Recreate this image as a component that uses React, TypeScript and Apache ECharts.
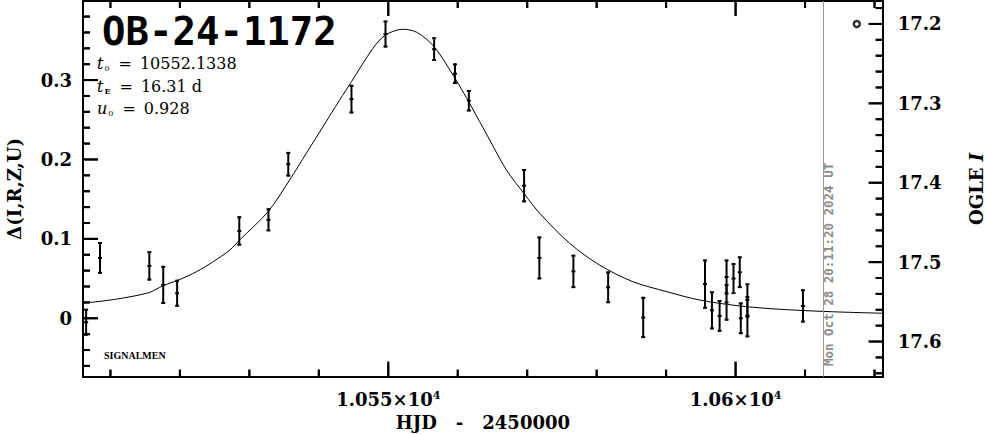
import React, { useEffect, useRef } from 'react';
import * as echarts from 'echarts';

// Observations: HJD-2450000, Δ mag, error
const obsT = [10506.5, 10508.5, 10515.6, 10517.6, 10519.6, 10528.55, 10532.75, 10535.6, 10544.7, 10549.6, 10556.6, 10559.6, 10561.6, 10569.55, 10571.75, 10576.65, 10581.65, 10586.7, 10595.6, 10596.6, 10597.7, 10598.7, 10598.7, 10599.7, 10600.6, 10600.75, 10601.7, 10601.7, 10609.7];
const obsDelta = [-0.005, 0.076, 0.066, 0.042, 0.0315, 0.110, 0.124, 0.194, 0.276, 0.358, 0.339, 0.308, 0.274, 0.167, 0.076, 0.059, 0.039, 0.001, 0.043, 0.010, 0.003, 0.052, 0.020, 0.050, 0.058, 0.000, 0.023, 0.002, 0.0155];
const obsErr = [0.017, 0.020, 0.0185, 0.024, 0.017, 0.0185, 0.0145, 0.0155, 0.018, 0.017, 0.015, 0.013, 0.0135, 0.021, 0.027, 0.021, 0.020, 0.026, 0.031, 0.024, 0.020, 0.022, 0.023, 0.0195, 0.020, 0.020, 0.021, 0.026, 0.021];

// Model curve
const modelT = [10506.0, 10510.7, 10515.5, 10517.6, 10519.8, 10522.4, 10524.8, 10527.2, 10528.6, 10532.7, 10535.8, 10538.2, 10540.6, 10543.0, 10544.7, 10547.8, 10549.6, 10552.1, 10554.1, 10556.6, 10559.6, 10561.7, 10564.6, 10567.0, 10569.7, 10571.8, 10576.1, 10580.4, 10585.2, 10590.1, 10594.8, 10600.6, 10606.4, 10613.6, 10621.2];
const modelDelta = [0.0189, 0.0239, 0.0322, 0.0411, 0.0482, 0.0587, 0.0713, 0.0860, 0.0986, 0.1343, 0.1742, 0.2078, 0.2413, 0.2749, 0.2980, 0.3401, 0.3568, 0.3640, 0.3602, 0.3421, 0.3023, 0.2708, 0.2246, 0.1868, 0.1553, 0.1322, 0.0945, 0.0671, 0.0461, 0.0335, 0.0230, 0.0155, 0.0113, 0.0083, 0.0063];

// OGLE marker (right axis)
const ogleMarkT = [10617.45];
const ogleMarkI = [17.2];

// Tick positions
const xMajorTicks = [10550, 10600];
const xMinorTicks = [10510, 10520, 10530, 10540, 10560, 10570, 10580, 10590, 10610, 10620];
const yMajorTicks = [0, 0.1, 0.2, 0.3];
const yMinorTicks = [-0.06, -0.04, -0.02, 0.02, 0.04, 0.06, 0.08, 0.12, 0.14, 0.16, 0.18, 0.22, 0.24, 0.26, 0.28, 0.32, 0.34, 0.36, 0.38];
const iMajorTicks = [17.2, 17.3, 17.4, 17.5, 17.6];
const iMinorTicks = [17.18, 17.22, 17.24, 17.26, 17.28, 17.32, 17.34, 17.36, 17.38, 17.42, 17.44, 17.46, 17.48, 17.52, 17.54, 17.56, 17.58, 17.62, 17.64];

// Tick labels
const xTickValues = [10550, 10600];
const xTickMantissa = ['1.055', '1.06'];
const xTickExponent = '4';
const X_MIN = 10506.05;
const X_MAX = 10621.18;
const Y_MIN = -0.0736;
const Y_MAX = 0.3996;
const I_BASE = 17.5707;
const I_MIN = I_BASE - Y_MAX;
const I_MAX = I_BASE - Y_MIN;
const DATE_LINE_T = 10612.6;
const dateText = 'Mon Oct 28 20:11:20 2024 UT';
const titleText = 'OB-24-1172';
const paramSymbols = ['t', 't', 'u'];
const paramSubs = ['0', 'E', '0'];
const paramValues = ['10552.1338', '16.31 d', '0.928'];
const signature = 'SIGNALMEN';

const SERIF = '"DejaVu Serif", serif';
const GRID_W = 799.7;
const GRID_H = 375.7;
const X_PER_PX = (X_MAX - X_MIN) / GRID_W;
const Y_PER_PX = (Y_MAX - Y_MIN) / GRID_H;
const MAJOR_LEN = 15;
const MINOR_LEN = 7;

// kind: 0 bottom, 1 top, 2 left, 3 right. Each item is anchored at the tick's midpoint (inside the plot).
function tickItems(kind: number, vals: number[], len: number) {
  return vals.map((v) => {
    if (kind === 0) return [v, Y_MIN + (len / 2) * Y_PER_PX, kind, len];
    if (kind === 1) return [v, Y_MAX - (len / 2) * Y_PER_PX, kind, len];
    if (kind === 2) return [X_MIN + (len / 2) * X_PER_PX, v, kind, len];
    return [X_MAX - (len / 2) * X_PER_PX, v, kind, len];
  });
}

const tickRender = (params: any, api: any) => {
  const c = api.coord([api.value(0), api.value(1)]);
  const kind = api.value(2);
  const h = api.value(3) / 2;
  const shape = kind <= 1
    ? { x1: c[0], y1: c[1] - h, x2: c[0], y2: c[1] + h }
    : { x1: c[0] - h, y1: c[1], x2: c[0] + h, y2: c[1] };
  return { type: 'group', children: [{ type: 'line', shape, style: { stroke: '#000', lineWidth: 2 } }] };
};

function lineCfg() {
  return { show: true, onZero: false, lineStyle: { color: '#000', width: 2 } };
}

function xAxisCfg(position: 'bottom' | 'top', showLabels: boolean) {
  return {
    type: 'value',
    position,
    min: X_MIN,
    max: X_MAX,
    splitNumber: 2,
    axisLine: lineCfg(),
    axisTick: { show: false },
    minorTick: { show: false },
    splitLine: { show: false },
    minorSplitLine: { show: false },
    axisLabel: showLabels
      ? {
          show: true,
          showMinLabel: false,
          showMaxLabel: false,
          margin: 13,
          formatter: (v: number) => {
            const i = xTickValues.findIndex((t) => Math.abs(t - v) < 1e-6);
            return i >= 0 ? `{m|${xTickMantissa[i]}×10}{e|${xTickExponent}}` : '';
          },
          rich: {
            m: { fontFamily: SERIF, fontWeight: 'bold', fontSize: 18, color: '#000' },
            e: { fontFamily: SERIF, fontWeight: 'bold', fontSize: 11, color: '#000', verticalAlign: 'top', padding: [0, 0, 8, 0] },
          },
        }
      : { show: false },
    name: showLabels ? '{a|HJD}{b|-}{a|2450000}' : '',
    nameLocation: 'middle',
    nameGap: 35,
    nameTextStyle: {
      fontFamily: SERIF, fontWeight: 'bold', fontSize: 18, color: '#000',
      rich: {
        a: { fontFamily: SERIF, fontWeight: 'bold', fontSize: 18, color: '#000' },
        b: { fontFamily: SERIF, fontWeight: 'bold', fontSize: 18, color: '#000', padding: [0, 19, 0, 19] },
      },
    },
  };
}

const baseGraphics: any[] = [
  {
    id: 'title',
    type: 'text',
    x: 102,
    y: 31,
    style: { text: titleText, fontFamily: '"DejaVu Sans Mono", monospace', fontWeight: 'bold', fontSize: 39, fill: '#000', verticalAlign: 'middle' },
  },
  ...paramSymbols.map((s, i) => ({
    id: 'param' + i,
    type: 'text',
    x: 97,
    y: 63.5 + i * 22.5,
    style: {
      text: `{t|${s}}{s|${paramSubs[i]}}{e|=}{n|${paramValues[i]}}`,
      verticalAlign: 'middle',
      rich: {
        t: { fontFamily: SERIF, fontStyle: 'italic', fontSize: 16, fill: '#000', lineHeight: 18 },
        s: { fontFamily: SERIF, fontWeight: i === 1 ? 'bold' : 'normal', fontSize: 8, fill: '#000', verticalAlign: 'bottom', lineHeight: 10, padding: [0, 0, 0, 1] },
        e: { fontFamily: SERIF, fontSize: 16, fill: '#000', lineHeight: 18, padding: [0, 8, 0, 9] },
        n: { fontFamily: SERIF, fontSize: 16, fill: '#000', lineHeight: 18 },
      },
    },
  })),
  {
    id: 'signature',
    type: 'text',
    x: 104,
    y: 355.5,
    style: { text: signature, fontFamily: '"Liberation Serif", serif', fontWeight: 'bold', fontSize: 10, fill: '#000', verticalAlign: 'middle' },
  },
  {
    id: 'date',
    type: 'text',
    x: 828.5,
    y: 366,
    rotation: Math.PI / 2,
    style: { text: dateText, fontFamily: '"DejaVu Sans Mono", monospace', fontWeight: 'bold', fontSize: 12.5, fill: '#8c8c8c', align: 'left', verticalAlign: 'middle' },
  },
];

const option = {
  animation: false,
  backgroundColor: '#fff',
  grid: { left: 83, top: 1, width: GRID_W, height: GRID_H, show: false, containLabel: false, outerBoundsMode: 'none' },
  xAxis: [xAxisCfg('bottom', true), xAxisCfg('top', false)],
  yAxis: [
    {
      type: 'value',
      position: 'left',
      min: Y_MIN,
      max: Y_MAX,
      splitNumber: 4,
      axisLine: lineCfg(),
      axisTick: { show: false },
      minorTick: { show: false },
      splitLine: { show: false },
      minorSplitLine: { show: false },
      axisLabel: {
        showMinLabel: false,
        showMaxLabel: false,
        margin: 11,
        fontFamily: SERIF,
        fontWeight: 'bold',
        fontSize: 18,
        color: '#000',
        formatter: (v: number) => (Math.abs(v) < 1e-9 ? '0' : v.toFixed(1)),
      },
      name: 'Δ(I,R,Z,U)',
      nameLocation: 'middle',
      nameGap: 60,
      nameTextStyle: { fontFamily: SERIF, fontWeight: 'bold', fontSize: 18, color: '#000' },
    },
    {
      type: 'value',
      position: 'right',
      inverse: true,
      min: I_MIN,
      max: I_MAX,
      splitNumber: 4,
      axisLine: lineCfg(),
      axisTick: { show: false },
      minorTick: { show: false },
      splitLine: { show: false },
      minorSplitLine: { show: false },
      axisLabel: {
        showMinLabel: false,
        showMaxLabel: false,
        margin: 15,
        fontFamily: SERIF,
        fontWeight: 'bold',
        fontSize: 18,
        color: '#000',
        formatter: (v: number) => v.toFixed(1),
      },
      name: 'OGLE {i|I}',
      nameLocation: 'middle',
      nameGap: 85,
      nameRotate: 90,
      nameTextStyle: {
        fontFamily: SERIF, fontWeight: 'bold', fontSize: 18, color: '#000',
        rich: { i: { fontFamily: SERIF, fontWeight: 'bold', fontStyle: 'italic', fontSize: 18, color: '#000' } },
      },
    },
  ],
  series: [
    {
      type: 'line',
      xAxisIndex: 0,
      yAxisIndex: 0,
      data: modelT.map((t, i) => [t, modelDelta[i]]),
      symbol: 'none',
      smooth: 0.3,
      lineStyle: { color: '#000', width: 1 },
      z: 2,
      markLine: {
        silent: true,
        symbol: 'none',
        label: { show: false },
        lineStyle: { color: '#999', width: 1, type: 'solid' },
        data: [{ xAxis: DATE_LINE_T }],
      },
    },
    {
      type: 'custom',
      xAxisIndex: 0,
      yAxisIndex: 0,
      data: obsT.map((t, i) => [t, obsDelta[i], obsErr[i]]),
      encode: { x: 0, y: 1 },
      z: 3,
      renderItem: (params: any, api: any) => {
        const t = api.value(0);
        const d = api.value(1);
        const e = api.value(2);
        const top = api.coord([t, d + e]);
        const bot = api.coord([t, d - e]);
        const c = api.coord([t, d]);
        const st = { stroke: '#000', lineWidth: 2 };
        return {
          type: 'group',
          children: [
            { type: 'line', shape: { x1: top[0], y1: top[1], x2: bot[0], y2: bot[1] }, style: st },
            { type: 'line', shape: { x1: top[0] - 2, y1: top[1] + 1, x2: top[0] + 2, y2: top[1] + 1 }, style: st },
            { type: 'line', shape: { x1: bot[0] - 2, y1: bot[1] - 1, x2: bot[0] + 2, y2: bot[1] - 1 }, style: st },
            { type: 'line', shape: { x1: c[0] - 2, y1: c[1], x2: c[0] + 2, y2: c[1] }, style: st },
          ],
        };
      },
    },
    {
      type: 'scatter',
      xAxisIndex: 0,
      yAxisIndex: 1,
      data: ogleMarkT.map((t, i) => [t, ogleMarkI[i]]),
      symbol: 'circle',
      symbolSize: 6,
      itemStyle: { color: '#fff', borderColor: '#000', borderWidth: 2.5 },
      z: 4,
    },
    {
      type: 'custom',
      xAxisIndex: 0,
      yAxisIndex: 0,
      clip: false,
      z: 3,
      data: [
        ...tickItems(0, xMajorTicks, MAJOR_LEN),
        ...tickItems(1, xMajorTicks, MAJOR_LEN),
        ...tickItems(0, xMinorTicks, MINOR_LEN),
        ...tickItems(1, xMinorTicks, MINOR_LEN),
        ...tickItems(2, yMajorTicks, MAJOR_LEN),
        ...tickItems(2, yMinorTicks, MINOR_LEN),
      ],
      encode: { x: 0, y: 1 },
      renderItem: tickRender,
    },
    {
      type: 'custom',
      xAxisIndex: 0,
      yAxisIndex: 1,
      clip: false,
      z: 3,
      data: [...tickItems(3, iMajorTicks, 14), ...tickItems(3, iMinorTicks, MINOR_LEN)],
      encode: { x: 0, y: 1 },
      renderItem: tickRender,
    },
  ],
  graphic: baseGraphics,
};

// Second route for the same ticks, through the series' own coordinate systems
function buildTickGraphics(chart: any): any[] {
  const out: any[] = [];
  const st = { stroke: '#000', lineWidth: 2 };
  const P = (sIdx: number, x: number, y: number) => chart.convertToPixel({ seriesIndex: sIdx }, [x, y]);
  const addX = (vals: number[], len: number) => vals.forEach((v) => {
    const b = P(1, v, Y_MIN);
    const t = P(1, v, Y_MAX);
    if (b && t) {
      out.push({ type: 'line', z: 40, shape: { x1: b[0], y1: b[1], x2: b[0], y2: b[1] - len }, style: st });
      out.push({ type: 'line', z: 40, shape: { x1: t[0], y1: t[1], x2: t[0], y2: t[1] + len }, style: st });
    }
  });
  const addL = (vals: number[], len: number) => vals.forEach((v) => {
    const p = P(1, X_MIN, v);
    if (p) out.push({ type: 'line', z: 40, shape: { x1: p[0], y1: p[1], x2: p[0] + len, y2: p[1] }, style: st });
  });
  const addR = (vals: number[], len: number) => vals.forEach((v) => {
    const p = P(2, X_MAX, v);
    if (p) out.push({ type: 'line', z: 40, shape: { x1: p[0], y1: p[1], x2: p[0] - len, y2: p[1] }, style: st });
  });
  addX(xMajorTicks, MAJOR_LEN);
  addX(xMinorTicks, MINOR_LEN);
  addL(yMajorTicks, MAJOR_LEN);
  addL(yMinorTicks, MINOR_LEN);
  addR(iMajorTicks, 14);
  addR(iMinorTicks, MINOR_LEN);
  return out.filter((g) => [g.shape.x1, g.shape.y1, g.shape.x2, g.shape.y2].every((n) => Number.isFinite(n)));
}

export default function App() {
  const ref = useRef<HTMLDivElement>(null);
  useEffect(() => {
    const chart = echarts.init(ref.current!, null, { renderer: 'svg' });
    chart.setOption(option as any);
    try {
      const extra = buildTickGraphics(chart);
      if (extra.length) chart.setOption({ graphic: [...baseGraphics, ...extra] } as any);
    } catch (e) {
      // ticks from the custom series remain
    }
    return () => chart.dispose();
  }, []);
  return <div ref={ref} style={{ position: 'fixed', left: 0, top: 0, width: 986, height: 434 }} />;
}
